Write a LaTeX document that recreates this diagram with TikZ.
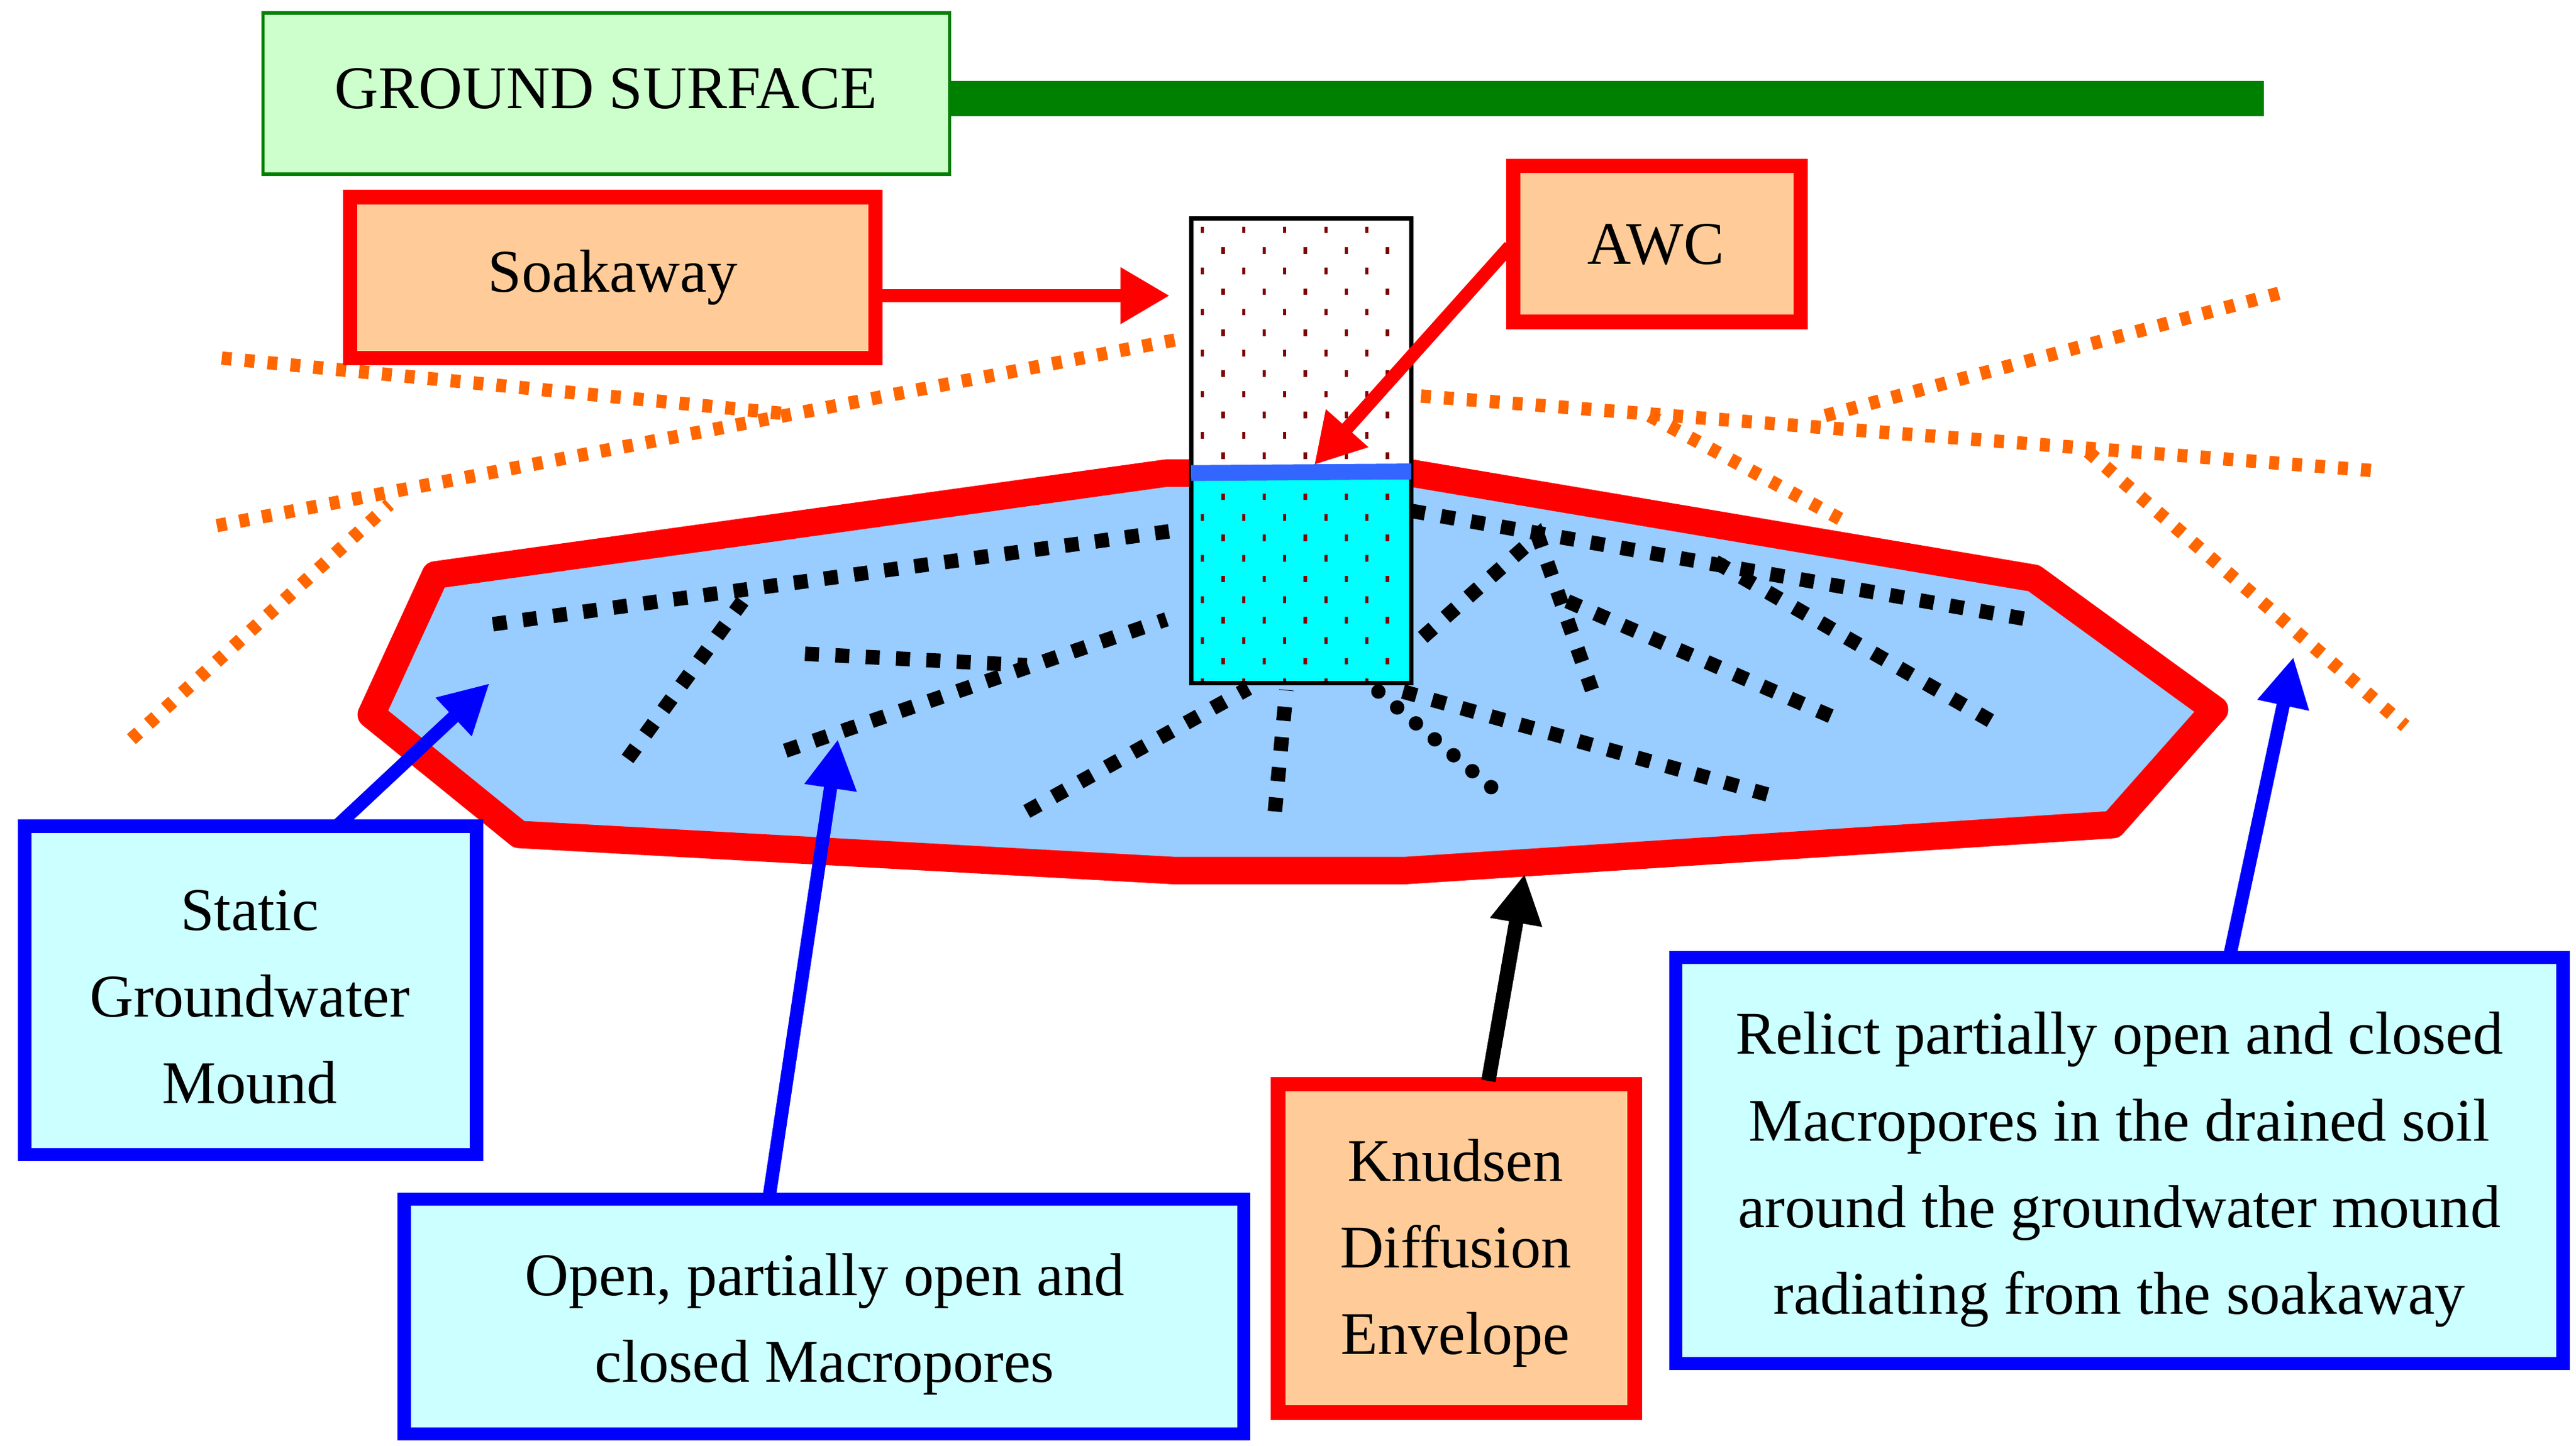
\documentclass[tikz,border=0pt]{standalone}
\usepackage{fontspec}
\setmainfont{Liberation Serif}
\usetikzlibrary{arrows.meta}
\definecolor{gfill}{HTML}{CCFFCC}
\definecolor{gline}{HTML}{008000}
\definecolor{ofill}{HTML}{FFCC99}
\definecolor{cfill}{HTML}{CCFFFF}
\definecolor{mound}{HTML}{99CCFF}
\definecolor{orng}{HTML}{FF6600}
\definecolor{dotc}{HTML}{800000}
\definecolor{awcblue}{HTML}{3366FF}
\definecolor{cyn}{HTML}{00FFFF}
\begin{document}
\begin{tikzpicture}[x=0.02cm,y=-0.02cm,
  txt/.style={font=\fontsize{21}{30}\selectfont, align=center, inner sep=0pt},
  redbox/.style={draw=red, line width=5pt, fill=ofill},
  bluebox/.style={draw=blue, line width=4.6pt, fill=cfill},
  blk/.style={line width=5pt, dash pattern=on 0.17cm off 0.2cm},
  org/.style={orng, line width=4.6pt, dash pattern=on 0.12cm off 0.16cm},
  rarr/.style={red, line width=4.6pt, -{Triangle[length=0.6cm,width=0.65cm]}},
  barr/.style={blue, line width=4.6pt, -{Triangle[length=0.6cm,width=0.6cm]}},
  karr/.style={black, line width=5pt, -{Triangle[length=0.6cm,width=0.6cm]}}]
\useasboundingbox (0,0) rectangle (1568,880);
% ground surface
\draw[gline, line width=1.2pt, fill=gfill] (160,8) rectangle (578,106);
\node[txt] (gs) at (369,54) {GROUND SURFACE};
\coordinate (gsr) at (578,60);
\coordinate (gse) at (1378,60);
\draw[gline, line width=12pt] (gsr) -- (gse);
% orange dotted lines
\draw[org] (135,218) -- (480,252);
\draw[org] (132,320) -- (715,207);
\draw[org] (80,450) -- (237,307);
\draw[org] (851,240) -- (1451,287);
\draw[org] (1004,253) -- (1124,318);
\draw[org] (1111,253) -- (1389,178);
\draw[org] (1271,275) -- (1464,442);
% mound
\draw[red, line width=9.5pt, line join=round, fill=mound]
 (265,350) -- (710,288) -- (859,288) -- (1238,352) -- (1348,432) -- (1286,502)
 -- (855,530) -- (715,530) -- (316,508) -- (226,435) -- cycle;
% black dotted macropores
\draw[blk] (300,380) -- (715,323);
\draw[blk] (382,462) -- (452,366);
\draw[blk] (490,398) -- (625,405);
\draw[blk] (478,457) -- (710,377);
\draw[blk] (625,494) -- (760,419);
\draw[blk] (776,494) -- (783,420);
\draw[blk] (859,311) -- (1234,377);
\draw[blk] (866,388) -- (936,326) -- (969,420);
\draw[blk] (954,366) -- (1119,438);
\draw[blk] (1044,342) -- (1219,443);
\draw[blk] (854,421) -- (1084,486);
\draw[line width=5pt, dash pattern=on 0pt off 0.3cm, line cap=round] (839,421) -- (911,482);
% soakaway column
\fill[white] (725,133) rectangle (859,288);
\fill[cyn] (725,288) rectangle (859,416);
\foreach \r in {0,...,22}{
  \pgfmathsetmacro{\yy}{140+\r*12.5}
  \pgfmathsetmacro{\xo}{mod(\r,2)==0 ? 732 : 744.5}
  \foreach \c in {0,...,4}{
    \fill[dotc] (\xo+\c*25-1,\yy-2) rectangle (\xo+\c*25+1,\yy+2);
  }
}
\draw[line width=1.5pt] (725,133) rectangle (859,416);
\node[inner sep=0pt] (col) at (792,274) {};
\draw[awcblue, line width=5.5pt] (725,288) -- (859,287);
% soakaway label
\draw[redbox] (213,120) rectangle (533,218);
\node[txt] (soak) at (373,169) {Soakaway};
\coordinate (soakr) at (533,180);
\coordinate (soakt) at (712,180);
\draw[rarr] (soakr) -- (soakt);
% AWC
\draw[redbox] (921,101) rectangle (1096,196);
\node[txt] (awc) at (1008,149) {AWC};
\coordinate (awcs) at (919,150);
\coordinate (awct) at (800,283);
\draw[rarr] (awcs) -- (awct);
% bottom boxes
\draw[bluebox] (15,503) rectangle (290,703);
\node[txt] (sgm) at (152,607) {Static\\Groundwater\\Mound};
\draw[barr] (205,503) -- (298,416);
\draw[bluebox] (246,730) rectangle (757,873);
\node[txt] (open) at (502,806) {Open, partially open and\\closed Macropores};
\draw[barr] (468,730) -- (510,450);
\draw[redbox] (778,660) rectangle (995,860);
\node[txt] (kde) at (886,763) {Knudsen\\Diffusion\\Envelope};
\draw[karr] (906,658) -- (928,532);
\draw[bluebox] (1020,583) rectangle (1560,830);
\node[txt] (rel) at (1290,712) {Relict partially open and closed\\Macropores in the drained soil\\around the groundwater mound\\radiating from the soakaway};
\draw[barr] (1357,583) -- (1396,400);
\end{tikzpicture}
\end{document}
